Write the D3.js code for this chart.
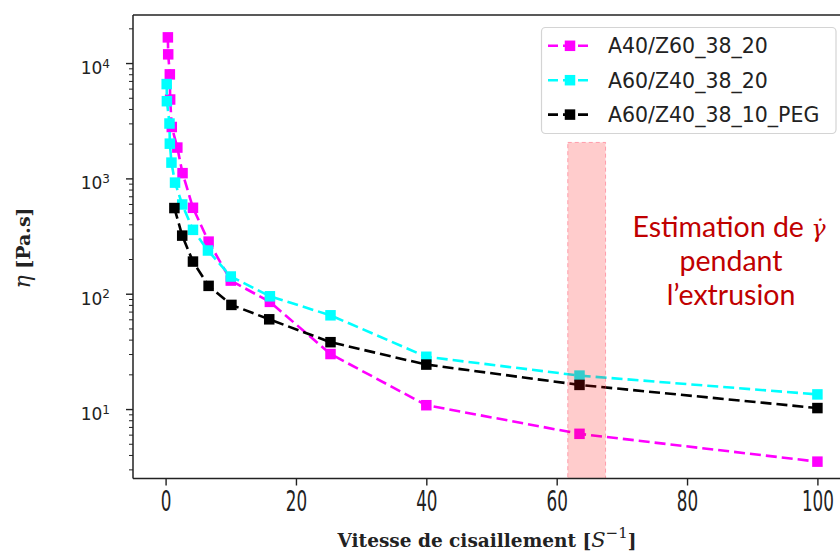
<!DOCTYPE html>
<html><head><meta charset="utf-8">
<script src="https://cdn.jsdelivr.net/npm/d3@7"></script>
<style>body{margin:0;background:#fff}svg{display:block}</style>
</head><body>
<svg id="c" width="840" height="555"></svg>
<script>
// ---- data ----
const seriesNames = ["A40/Z60_38_20", "A60/Z40_38_20", "A60/Z40_38_10_PEG"];
const xA40Z60 = [0.35, 0.4, 0.65, 0.7, 0.95, 1.8, 2.6, 4.2, 6.6, 10, 16, 25.3, 40, 63.5, 100];
const yA40Z60 = [16700, 11900, 7980, 4830, 2790, 1850, 1110, 556, 283, 130, 85, 30, 10.8, 6.1, 3.5];
const xA60Z40 = [0.17, 0.2, 0.6, 0.65, 0.9, 1.45, 2.55, 4.2, 6.5, 10, 16, 25.3, 40, 63.5, 100];
const yA60Z40 = [6570, 4670, 2990, 2000, 1370, 919, 594, 358, 237, 141, 95, 65, 28.4, 19.5, 13.4];
const xA60Z40PEG = [1.35, 2.55, 4.2, 6.6, 10.1, 15.9, 25.3, 40, 63.5, 100];
const yA60Z40PEG = [553, 319, 190, 117, 80, 60, 38, 24.3, 16.2, 10.2];
const xTicks = [0, 20, 40, 60, 80, 100];
const yTicks = [10, 100, 1000, 10000];
const yExponents = ["1", "2", "3", "4"];
const bandRange = [61.7, 67.5];
const bandTop = 2050;
const noteLines = ["Estimation de ", "pendant", "l\u2019extrusion"];

// ---- styles ----
const colors = ["#ff00ff", "#00ffff", "#000000"];

const svg = d3.select("#c");
const L = 133, R = 850, T = 15, B = 478.5;
const x = d3.scaleLinear().domain([-5, 105]).range([L, R]);
const y = d3.scaleLog().domain([2.5, 26100]).range([B, T]);

const series = [
  {name: seriesNames[0], xs: xA40Z60, ys: yA40Z60, color: colors[0]},
  {name: seriesNames[1], xs: xA60Z40, ys: yA60Z40, color: colors[1]},
  {name: seriesNames[2], xs: xA60Z40PEG, ys: yA60Z40PEG, color: colors[2]}
];

const line = d3.line().x(d => x(d[0])).y(d => y(d[1]));
const ms = 10.5;
series.forEach(s => {
  const pts = s.xs.map((v, i) => [v, s.ys[i]]);
  const g = svg.append("g");
  g.append("path").attr("d", line(pts)).attr("fill", "none")
    .attr("stroke", s.color).attr("stroke-width", 2.6).attr("stroke-dasharray", "11,5");
  g.selectAll("rect").data(pts).join("rect")
    .attr("x", d => x(d[0]) - ms / 2).attr("y", d => y(d[1]) - ms / 2)
    .attr("width", ms).attr("height", ms).attr("fill", s.color);
});

// band (drawn above lines, translucent)
svg.append("rect")
  .attr("x", x(bandRange[0])).attr("y", y(bandTop))
  .attr("width", x(bandRange[1]) - x(bandRange[0]))
  .attr("height", B - y(bandTop))
  .attr("fill", "red").attr("fill-opacity", 0.2)
  .attr("stroke", "#ff3355").attr("stroke-opacity", 0.4)
  .attr("stroke-width", 1).attr("stroke-dasharray", "4,3");

// x axis
const xAxis = svg.append("g").attr("transform", `translate(0,${B})`)
  .call(d3.axisBottom(x).tickValues(xTicks).tickSize(7).tickFormat(d3.format("d")));
xAxis.select(".domain").remove();
xAxis.selectAll("line").attr("stroke", "#222").attr("stroke-width", 1.4);
xAxis.selectAll("text").attr("y", 33).attr("dy", 0)
  .attr("font-family", "DejaVu Sans").attr("font-size", 28).attr("fill", "#222")
  .attr("transform", "scale(0.6,1)");

// y axis major
const yAxis = svg.append("g").attr("transform", `translate(${L},0)`)
  .call(d3.axisLeft(y).tickValues(yTicks).tickSize(7).tickFormat(""));
yAxis.select(".domain").remove();
yAxis.selectAll("line").attr("stroke", "#222").attr("stroke-width", 1.4);
yAxis.selectAll(".tick").each(function(d, i) {
  const t = d3.select(this).append("text")
    .attr("x", -23).attr("y", 10.5).attr("text-anchor", "end")
    .attr("font-family", "DejaVu Sans").attr("font-size", 17).attr("fill", "#222")
    .text("10");
  t.append("tspan").attr("dy", -6.5).attr("font-size", 12).text(yExponents[i]);
});
// y minor ticks
const minor = [];
[1, 10, 100, 1000, 10000].forEach(dec => { for (let k = 2; k <= 9; k++) { const v = dec * k; if (v > 2.5 && v < 26100) minor.push(v); } });
const yMinor = svg.append("g").attr("transform", `translate(${L},0)`)
  .call(d3.axisLeft(y).tickValues(minor).tickSize(4).tickFormat(""));
yMinor.select(".domain").remove();
yMinor.selectAll("line").attr("stroke", "#222").attr("stroke-width", 1);

// spines
const sp = svg.append("g").attr("stroke", "#222").attr("stroke-width", 1.5);
sp.append("line").attr("x1", L).attr("x2", L).attr("y1", T).attr("y2", B);
sp.append("line").attr("x1", L).attr("x2", 840).attr("y1", B).attr("y2", B);
sp.append("line").attr("x1", L).attr("x2", 840).attr("y1", T).attr("y2", T);

// axis titles
const xt = svg.append("text").attr("x", 487).attr("y", 547).attr("text-anchor", "middle")
  .attr("font-family", "DejaVu Serif").attr("font-weight", "bold").attr("font-size", 18.5).attr("fill", "#222");
xt.append("tspan").text("Vitesse de cisaillement [");
xt.append("tspan").attr("font-style", "italic").attr("font-weight", "normal").attr("font-size", 21).text("S");
xt.append("tspan").attr("dy", -9).attr("font-size", 15).attr("font-weight", "normal").text("\u22121");
xt.append("tspan").attr("dy", 9).text("]");

const yt = svg.append("text").attr("transform", "translate(30,248) rotate(-90)")
  .attr("text-anchor", "middle").attr("font-family", "DejaVu Serif")
  .attr("font-size", 19).attr("fill", "#222");
yt.append("tspan").attr("font-style", "italic").attr("font-size", 22).text("\u03b7");
yt.append("tspan").attr("font-weight", "bold").text(" [Pa.s]");

// legend
const lg = svg.append("g");
lg.append("rect").attr("x", 541.5).attr("y", 27.5).attr("width", 294.5).attr("height", 106)
  .attr("rx", 4).attr("fill", "#fff").attr("fill-opacity", 0.85).attr("stroke", "#d4d4d4").attr("stroke-width", 1.2);
series.forEach((s, i) => {
  const cy = 45.8 + i * 34.4;
  lg.append("line").attr("x1", 548).attr("x2", 592).attr("y1", cy).attr("y2", cy)
    .attr("stroke", s.color).attr("stroke-width", 2.6).attr("stroke-dasharray", "10,5");
  lg.append("rect").attr("x", 570 - ms / 2).attr("y", cy - ms / 2).attr("width", ms).attr("height", ms).attr("fill", s.color);
  lg.append("text").attr("x", 608).attr("y", cy + 7.5).attr("font-family", "DejaVu Sans")
    .attr("font-size", 20.5).attr("fill", "#222").text(s.name);
});

// annotation
const ann = svg.append("g").attr("font-family", "Lato").attr("font-size", 28.5).attr("fill", "#c00000").attr("text-anchor", "middle");
const t1 = ann.append("text").attr("x", 729).attr("y", 237);
t1.append("tspan").text(noteLines[0]);
t1.append("tspan").attr("font-family", "DejaVu Serif").attr("font-style", "italic").attr("font-size", 24).text("\u03b3\u0307");
ann.append("text").attr("x", 731).attr("y", 271).text(noteLines[1]);
ann.append("text").attr("x", 731).attr("y", 305).text(noteLines[2]);
</script>
</body></html>
